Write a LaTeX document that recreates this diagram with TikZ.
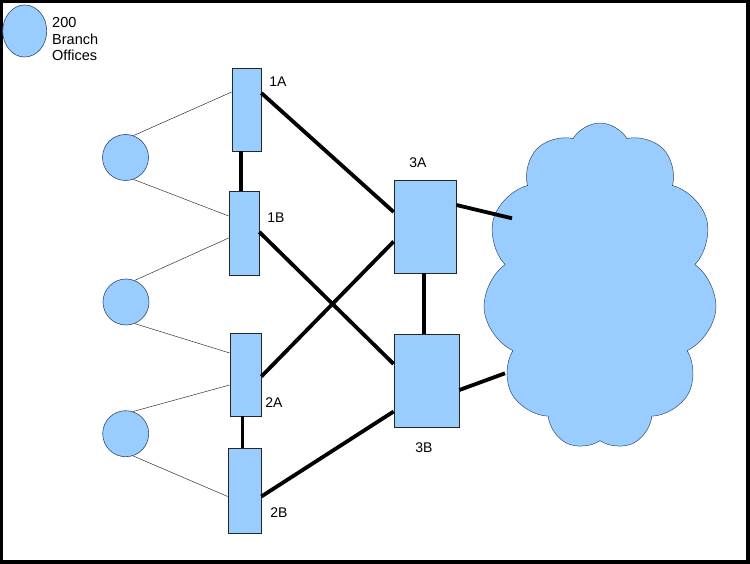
\documentclass[tikz,border=0pt]{standalone}
\usepackage{fontspec}
\setmainfont{Liberation Sans}
\usetikzlibrary{shapes.symbols,shapes.geometric}
\definecolor{nodeblue}{RGB}{153,204,255}
\definecolor{edgeblue}{RGB}{50,75,105}
\begin{document}
\begin{tikzpicture}[x=1pt,y=-1pt,
  boxnode/.style={draw=black!85,fill=nodeblue,line width=0.7pt,inner sep=0pt},
  office/.style={circle,draw=edgeblue,fill=nodeblue,line width=0.6pt,minimum size=46pt,inner sep=0pt},
  lbl/.style={inner sep=0pt,font=\fontsize{14}{16}\selectfont},
  thinlink/.style={draw=black!80,line width=0.5pt},
  thicklink/.style={draw=black,line width=3.8pt},
  netcloud/.style={cloud,cloud puffs=11,cloud puff arc=120,aspect=0.72,draw=edgeblue,fill=nodeblue,line width=0.5pt,inner sep=0pt}]
\useasboundingbox (0,0) rectangle (750,564);
\fill[black] (0,0) rectangle (750,564);
\fill[white] (3,3) rectangle (746,560);
% legend
\node[ellipse,draw=edgeblue,fill=nodeblue,line width=0.6pt,minimum width=44pt,minimum height=52pt,inner sep=0pt] (leg) at (24.7,31) {};
\node[inner sep=0pt,font=\fontsize{14.5}{16.5}\selectfont,anchor=north west,align=left] (legtxt) at (52,17.3) {200\\Branch\\Offices};
% cloud
\node[netcloud,minimum width=234pt,minimum height=327pt] (net) at (600,286.5) {};
% offices
\node[office] (o1) at (125.5,157.5) {};
\node[office] (o2) at (126,302) {};
\node[office] (o3) at (125.7,433.7) {};
% switches
\node[boxnode,minimum width=29pt,minimum height=83pt] (s1A) at (246.5,109.5) {};
\node[boxnode,minimum width=30pt,minimum height=84pt] (s1B) at (244,233) {};
\node[boxnode,minimum width=31pt,minimum height=83pt] (s2A) at (245.5,374.5) {};
\node[boxnode,minimum width=33pt,minimum height=85pt] (s2B) at (244.5,490.5) {};
\node[boxnode,minimum width=62pt,minimum height=93pt] (s3A) at (425,226.5) {};
\node[boxnode,minimum width=65pt,minimum height=93pt] (s3B) at (426.5,380.5) {};
% labels
\node[lbl] (l1A) at (278,81.7) {1A};
\node[lbl] (l1B) at (276,217.5) {1B};
\node[lbl] (l2A) at (274,402.5) {2A};
\node[lbl] (l2B) at (279,512.5) {2B};
\node[lbl] (l3A) at (418,162.3) {3A};
\node[lbl] (l3B) at (424,447.5) {3B};
% cloud attachment points
\coordinate (cA) at (512,218.3);
\coordinate (cB) at (505,373.3);
% thin links
\draw[thinlink] (o1.70) -- ([yshift=17.5pt]s1A.west);
\draw[thinlink] (o1.-70) -- ([yshift=17pt]s1B.west);
\draw[thinlink] (o2.68) -- ([yshift=-5pt]s1B.west);
\draw[thinlink] (o2.-68) -- ([yshift=21.5pt]s2A.west);
\draw[thinlink] (o3.72) -- ([yshift=-10.5pt]s2A.west);
\draw[thinlink] (o3.-72) -- ([yshift=-6pt]s2B.west);
% thick links
\draw[thicklink] ([xshift=-5.5pt]s1A.south) -- ([xshift=-5.5pt]s1A.south |- s1B.north);
\draw[thicklink] ([xshift=-3pt]s2A.south) -- ([xshift=-3pt]s2A.south |- s2B.north);
\draw[thicklink] ([xshift=-0.7pt]s3A.south) -- ([xshift=-0.7pt]s3A.south |- s3B.north);
\draw[thicklink] ([yshift=16.5pt]s1A.east) -- ([yshift=14.5pt]s3A.west);
\draw[thicklink] ([yshift=-2pt]s2A.east) -- ([yshift=-15pt]s3A.west);
\draw[thicklink] ([yshift=1pt]s1B.east) -- ([yshift=16.5pt]s3B.west);
\draw[thicklink] ([yshift=-6pt]s2B.east) -- ([yshift=-31pt]s3B.west);
\draw[thicklink] ([yshift=21.5pt]s3A.east) -- (cA);
\draw[thicklink] ([yshift=-9.5pt]s3B.east) -- (cB);
\end{tikzpicture}
\end{document}
